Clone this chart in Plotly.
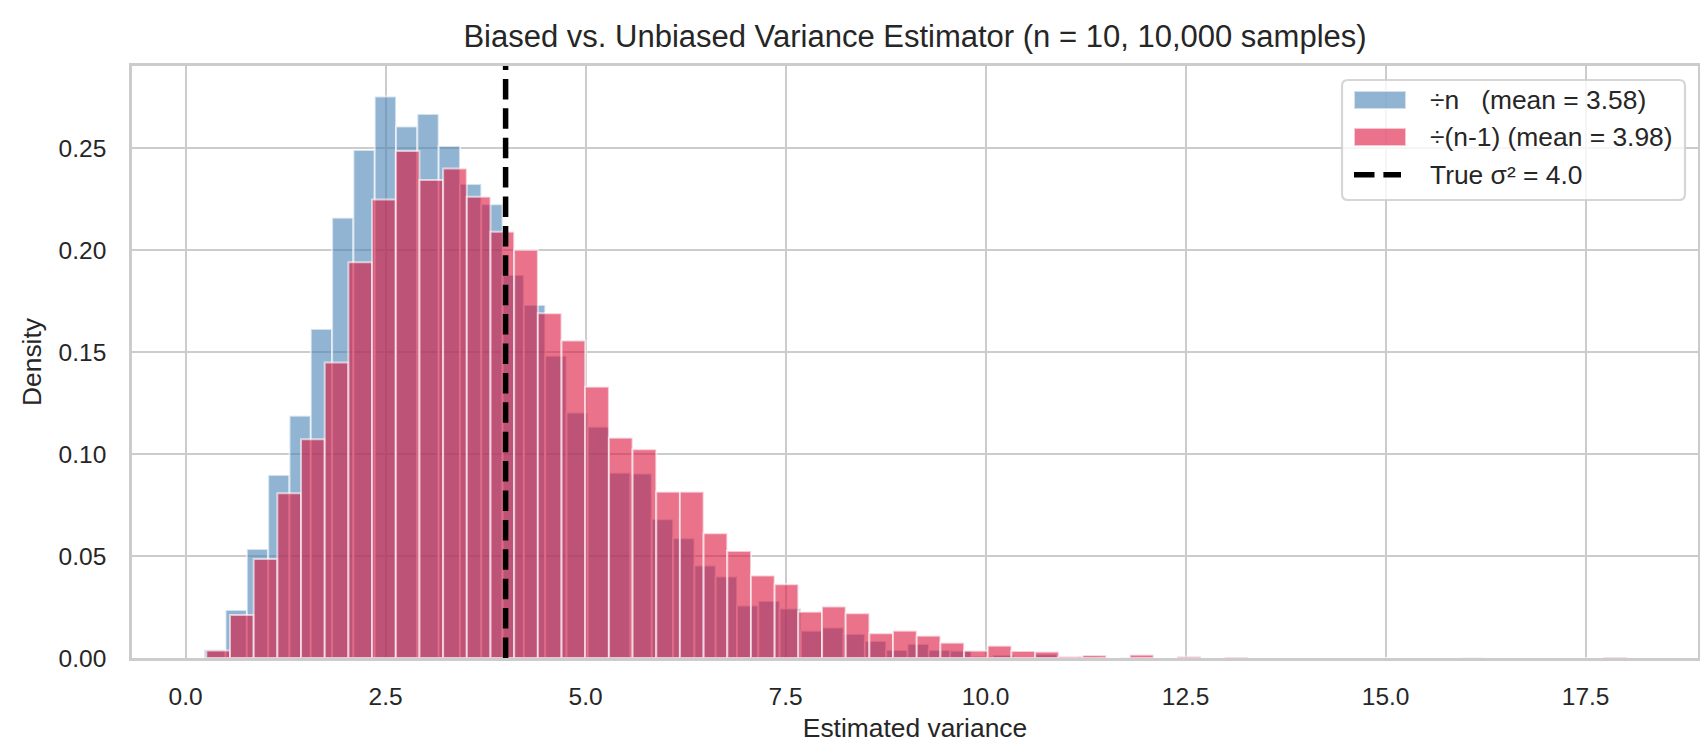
import numpy as np
import plotly.graph_objects as go

# --- values ---
# 60 bins per histogram, each histogram spans its own data range
biased_bin_start = 0.233        # ÷n estimator
biased_bin_width = 0.2664
unbiased_bin_start = 0.259      # ÷(n-1) estimator
unbiased_bin_width = 0.296

biased_density = [
    0.0041, 0.0235, 0.0534, 0.0897, 0.1188, 0.1613, 0.2158, 0.2490, 0.2752, 0.2605,
    0.2667, 0.2510, 0.2324, 0.2224, 0.1877, 0.1730, 0.1482, 0.1203, 0.1134, 0.0908,
    0.0904, 0.0680, 0.0587, 0.0453, 0.0399, 0.0257, 0.0279, 0.0243, 0.0134, 0.0149,
    0.0118, 0.0083, 0.0039, 0.0069, 0.0039, 0.0036, 0.0008, 0.0015, 0.0000, 0.0018,
    0.0000, 0.0008, 0.0000, 0.0003, 0.0000, 0.0000, 0.0000, 0.0000, 0.0000, 0.0000,
    0.0000, 0.0000, 0.0000, 0.0000, 0.0000, 0.0000, 0.0000, 0.0000, 0.0000, 0.0003,
]
unbiased_density = [
    0.0037, 0.0211, 0.0485, 0.0807, 0.1072, 0.1449, 0.1940, 0.2248, 0.2485, 0.2343,
    0.2400, 0.2261, 0.2090, 0.2000, 0.1690, 0.1556, 0.1330, 0.1080, 0.1023, 0.0815,
    0.0815, 0.0611, 0.0525, 0.0404, 0.0361, 0.0227, 0.0252, 0.0219, 0.0121, 0.0134,
    0.0109, 0.0075, 0.0036, 0.0060, 0.0034, 0.0031, 0.0007, 0.0013, 0.0000, 0.0016,
    0.0000, 0.0007, 0.0000, 0.0003, 0.0000, 0.0000, 0.0000, 0.0000, 0.0000, 0.0000,
    0.0000, 0.0000, 0.0000, 0.0000, 0.0000, 0.0000, 0.0000, 0.0000, 0.0000, 0.0003,
]

biased_mean = 3.58
unbiased_mean = 3.98
true_variance = 4.0

x_tick_values = [0.0, 2.5, 5.0, 7.5, 10.0, 12.5, 15.0, 17.5]
y_tick_values = [0.00, 0.05, 0.10, 0.15, 0.20, 0.25]

title = "Biased vs. Unbiased Variance Estimator (n = 10, 10,000 samples)"
biased_label = f"÷n\u00a0\u00a0\u00a0(mean = {biased_mean:.2f})"
unbiased_label = f"÷(n-1) (mean = {unbiased_mean:.2f})"
true_label = f"True σ² = {true_variance:.1f}"

# --- styling ---
FONT = "Liberation Sans, Arial, sans-serif"
TEXT = "#262626"
GRID = "#cccccc"
BLUE = "rgba(70,130,180,0.6)"     # steelblue, alpha .6
RED = "rgba(220,20,60,0.6)"       # crimson, alpha .6
EDGE = "rgba(255,255,255,0.6)"
DASH = "20.5px,8.9px"


def hist_bars(start, width, density, color):
    left = start + width * np.arange(len(density))
    return go.Bar(
        x=left, y=density, width=width, offset=0,
        marker=dict(color=color, line=dict(color=EDGE, width=2)),
        showlegend=False, hoverinfo="skip",
    )


fig = go.Figure()
fig.add_trace(hist_bars(biased_bin_start, biased_bin_width, biased_density, BLUE))
fig.add_trace(hist_bars(unbiased_bin_start, unbiased_bin_width, unbiased_density, RED))

# true variance marker
fig.add_shape(type="line", xref="x", yref="paper", x0=true_variance, x1=true_variance,
              y0=0, y1=1, layer="above", line=dict(color="black", width=5.5, dash=DASH))


# hand-built legend in the top-right corner (pixel offsets from the plot corner)
def px_shape(kind, **kw):
    return dict(type=kind, xref="paper", yref="paper", xsizemode="pixel", ysizemode="pixel",
                xanchor=1, yanchor=1, layer="above", **kw)


bx0, bx1, by0, by1, r = -356, -13, -134, -14, 6
box_path = (f"M{bx0 + r},{by1} L{bx1 - r},{by1} Q{bx1},{by1} {bx1},{by1 - r} "
            f"L{bx1},{by0 + r} Q{bx1},{by0} {bx1 - r},{by0} L{bx0 + r},{by0} "
            f"Q{bx0},{by0} {bx0},{by0 + r} L{bx0},{by1 - r} Q{bx0},{by1} {bx0 + r},{by1} Z")
fig.add_shape(px_shape("path", path=box_path, fillcolor="rgba(255,255,255,0.8)",
                       line=dict(color="rgba(204,204,204,0.8)", width=2.2)))
fig.add_shape(px_shape("rect", x0=-344, x1=-292, y0=-43, y1=-25, fillcolor=BLUE,
                       line=dict(color=EDGE, width=2)))
fig.add_shape(px_shape("rect", x0=-344, x1=-292, y0=-80, y1=-62, fillcolor=RED,
                       line=dict(color=EDGE, width=2)))
fig.add_shape(px_shape("line", x0=-344, x1=-297, y0=-108.7, y1=-108.7,
                       line=dict(color="black", width=5.5, dash=DASH)))

for label, shift in [(biased_label, -34.3), (unbiased_label, -71.3), (true_label, -108.7)]:
    fig.add_annotation(text=label, xref="paper", yref="paper", x=1, y=1,
                       xanchor="left", yanchor="middle", xshift=-270, yshift=shift,
                       showarrow=False, font=dict(family=FONT, size=26.4, color=TEXT))

axis_common = dict(
    showgrid=True, gridcolor=GRID, gridwidth=2.2,
    showline=True, linecolor=GRID, linewidth=2.6, mirror=True,
    ticks="outside", tickcolor="rgba(0,0,0,0)",
    tickfont=dict(family=FONT, size=24.5, color=TEXT),
    automargin=False,
)

fig.update_layout(
    template="none",
    width=1708, height=747,
    margin=dict(l=124, r=18, t=58, b=97),
    barmode="overlay",
    paper_bgcolor="white", plot_bgcolor="white",
    font=dict(family=FONT, color=TEXT),
    title=dict(text=title, x=0.5, xref="paper", xanchor="center",
               y=1 - 28 / 747, yref="container", yanchor="middle",
               font=dict(family=FONT, size=31, color=TEXT)),
    xaxis=dict(
        axis_common, range=[-0.67, 18.905], tickvals=x_tick_values, tickformat=".1f",
        ticklen=15, zeroline=True, zerolinecolor=GRID, zerolinewidth=2.2,
        title=dict(text="Estimated variance", standoff=10,
                   font=dict(family=FONT, size=26.4, color=TEXT)),
    ),
    yaxis=dict(
        axis_common, range=[0, 0.2902], tickvals=y_tick_values, tickformat=".2f",
        ticklen=18, zeroline=False,
        title=dict(text="Density", standoff=10,
                   font=dict(family=FONT, size=26.4, color=TEXT)),
    ),
    showlegend=False,
)

fig.write_html("out.html")
